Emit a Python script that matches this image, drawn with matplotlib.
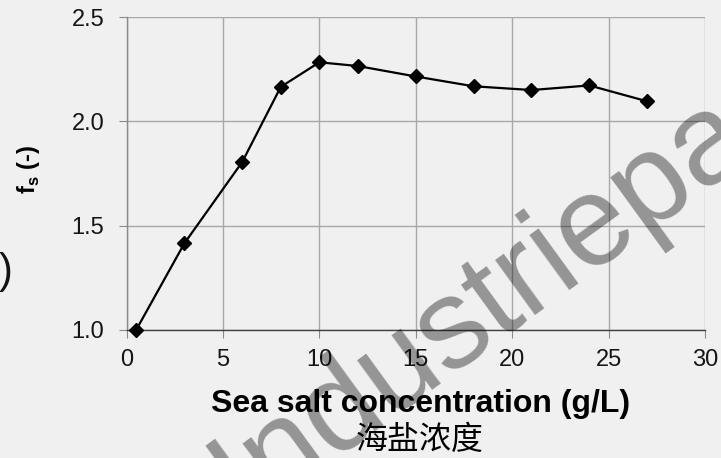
import matplotlib
matplotlib.use("Agg")
import matplotlib.pyplot as plt

# Data
salt = [0.5, 3, 6, 8, 10, 12, 15, 18, 21, 24, 27]
fs = [1.00, 1.415, 1.805, 2.165, 2.283, 2.265, 2.215, 2.168, 2.150, 2.172, 2.096]
xticks = [0, 5, 10, 15, 20, 25, 30]
yticks = [1.0, 1.5, 2.0, 2.5]
ytick_labels = ["1.0", "1.5", "2.0", "2.5"]

plt.rcParams['font.family'] = ['Liberation Sans', 'Noto Sans CJK SC', 'DejaVu Sans']
plt.rcParams['mathtext.fontset'] = 'custom'
plt.rcParams['mathtext.rm'] = 'Liberation Sans'
plt.rcParams['mathtext.bf'] = 'Liberation Sans:bold'

bg = '#f0f0f0'
fig = plt.figure(figsize=(7.21, 4.58), dpi=100, facecolor=bg)
ax = fig.add_axes([126.5 / 721, 1 - 330 / 458, (705 - 126.5) / 721, (330 - 17) / 458])
ax.set_facecolor(bg)

ax.plot(salt, fs, color='black', lw=1.6, marker='D', markersize=7, zorder=3, clip_on=False)

ax.set_xlim(0, 30)
ax.set_ylim(1.0, 2.5)
ax.set_xticks(xticks)
ax.set_yticks(yticks)
ax.set_yticklabels(ytick_labels)
ax.grid(True, color='#a8a8a8', lw=1.0)
ax.set_axisbelow(True)
for s in ['top', 'right']:
    ax.spines[s].set_visible(False)
ax.spines['left'].set_color('#8a8a8a')
ax.spines['left'].set_linewidth(1.0)
ax.spines['bottom'].set_color('#404040')
ax.spines['bottom'].set_linewidth(1.0)
ax.tick_params(axis='y', length=6, width=0.8, color='#8a8a8a', pad=10, labelsize=17, labelcolor='#151515')
ax.tick_params(axis='x', length=6, width=0.8, color='#8a8a8a', pad=8, labelsize=17, labelcolor='#151515')

fig.text(29 / 721, 1 - 169 / 458, r'f$_\mathbf{s}$ (-)', rotation=90, ha='center', va='center',
         fontsize=17, fontweight='bold', zorder=5)
fig.text(421 / 721, 1 - 412 / 458, 'Sea salt concentration (g/L)', ha='center', va='baseline',
         fontsize=23, fontweight='bold', zorder=5)
fig.text(419.5 / 721, 1 - 440 / 458, '海盐浓度', ha='center', va='center',
         fontsize=23, family=['Noto Sans CJK SC', 'DejaVu Sans'], zorder=5)

# stray bracket at left edge
fig.text(-1 / 721, 1 - 272 / 458, ')', ha='left', va='center', fontsize=30, color='#111111')

# watermark
fig.text(245 / 721, 1 - 517 / 458, 'Industriepartner', rotation=36, rotation_mode='anchor',
         ha='left', va='baseline', fontsize=92, color='black', alpha=0.38, zorder=1)

fig.savefig('out.png', dpi=100, facecolor=bg)
